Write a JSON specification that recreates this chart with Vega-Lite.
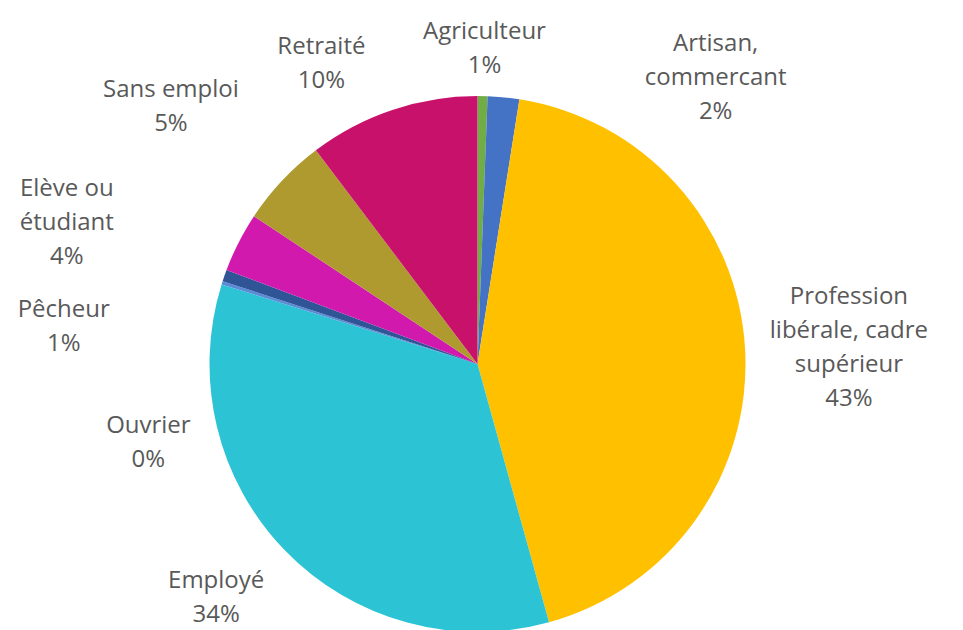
{
  "$schema": "https://vega.github.io/schema/vega-lite/v6.json",
  "width": 955,
  "height": 728,
  "autosize": "none",
  "padding": 0,
  "background": "white",
  "config": {"view": {"stroke": null}, "text": {"font": "Open Sans", "fontSize": 24, "fill": "#595959", "lineHeight": 34, "lineBreak": "\n", "baseline": "middle", "align": "center"}},
  "data": {"values": [
    {"categorie": "Agriculteur", "libelle": "Agriculteur", "part": 0.6},
    {"categorie": "Artisan, commercant", "libelle": "Artisan,\ncommercant", "part": 1.9},
    {"categorie": "Profession libérale, cadre supérieur", "libelle": "Profession\nlibérale, cadre\nsupérieur", "part": 43.2},
    {"categorie": "Employé", "libelle": "Employé", "part": 34.1},
    {"categorie": "Ouvrier", "libelle": "Ouvrier", "part": 0.2},
    {"categorie": "Pêcheur", "libelle": "Pêcheur", "part": 0.7},
    {"categorie": "Elève ou étudiant", "libelle": "Elève ou\nétudiant", "part": 3.6},
    {"categorie": "Sans emploi", "libelle": "Sans emploi", "part": 5.4},
    {"categorie": "Retraité", "libelle": "Retraité", "part": 10.3}
  ]},
  "transform": [
    {"window": [{"op": "sum", "field": "part", "as": "fin"}], "frame": [null, 0]},
    {"calculate": "datum.fin - datum.part", "as": "debut"},
    {"calculate": "datum.fin - datum.part / 2", "as": "milieu"},
    {"calculate": "datum.libelle + '\\n' + format(datum.part / 100, '.0%')", "as": "etiquette"}
  ],
  "layer": [
    {
      "mark": {"type": "arc", "outerRadius": 268},
      "encoding": {
        "theta": {"field": "debut", "type": "quantitative", "scale": {"domain": [0, 100]}},
        "theta2": {"field": "fin"},
        "color": {"field": "categorie", "type": "nominal", "legend": null,
          "scale": {"domain": ["Agriculteur", "Artisan, commercant", "Profession libérale, cadre supérieur", "Employé", "Ouvrier", "Pêcheur", "Elève ou étudiant", "Sans emploi", "Retraité"],
                    "range": ["#70AD47", "#4472C4", "#FFC000", "#2CC4D4", "#5B8BD6", "#2F5597", "#D11AAD", "#AE9A2F", "#C8116B"]}}
      }
    },
    {"transform": [{"filter": "datum.categorie === 'Agriculteur'"}],
     "mark": {"type": "text", "radius": 316, "dx": 1, "dy": -16},
     "encoding": {"theta": {"field": "milieu", "type": "quantitative", "scale": {"domain": [0, 100]}}, "text": {"field": "etiquette"}}},
    {"transform": [{"filter": "datum.categorie === 'Artisan, commercant'"}],
     "mark": {"type": "text", "radius": 372, "dx": 202, "dy": 50},
     "encoding": {"theta": {"field": "milieu", "type": "quantitative", "scale": {"domain": [0, 100]}}, "text": {"field": "etiquette"}}},
    {"transform": [{"filter": "datum.categorie === 'Profession libérale, cadre supérieur'"}],
     "mark": {"type": "text", "radius": 372, "dx": 0, "dy": -46},
     "encoding": {"theta": {"field": "milieu", "type": "quantitative", "scale": {"domain": [0, 100]}}, "text": {"field": "etiquette"}}},
    {"transform": [{"filter": "datum.categorie === 'Employé'"}],
     "mark": {"type": "text", "radius": 350, "dx": -10, "dy": -27},
     "encoding": {"theta": {"field": "milieu", "type": "quantitative", "scale": {"domain": [0, 100]}}, "text": {"field": "etiquette"}}},
    {"transform": [{"filter": "datum.categorie === 'Ouvrier'"}],
     "mark": {"type": "text", "radius": 338, "dx": -7, "dy": 164},
     "encoding": {"theta": {"field": "milieu", "type": "quantitative", "scale": {"domain": [0, 100]}}, "text": {"field": "etiquette"}}},
    {"transform": [{"filter": "datum.categorie === 'Pêcheur'"}],
     "mark": {"type": "text", "radius": 415, "dx": -22, "dy": 83},
     "encoding": {"theta": {"field": "milieu", "type": "quantitative", "scale": {"domain": [0, 100]}}, "text": {"field": "etiquette"}}},
    {"transform": [{"filter": "datum.categorie === 'Elève ou étudiant'"}],
     "mark": {"type": "text", "radius": 434, "dx": -24, "dy": 22},
     "encoding": {"theta": {"field": "milieu", "type": "quantitative", "scale": {"domain": [0, 100]}}, "text": {"field": "etiquette"}}},
    {"transform": [{"filter": "datum.categorie === 'Sans emploi'"}],
     "mark": {"type": "text", "radius": 400, "dx": -15, "dy": 0},
     "encoding": {"theta": {"field": "milieu", "type": "quantitative", "scale": {"domain": [0, 100]}}, "text": {"field": "etiquette"}}},
    {"transform": [{"filter": "datum.categorie === 'Retraité'"}],
     "mark": {"type": "text", "radius": 340, "dx": -48, "dy": 5},
     "encoding": {"theta": {"field": "milieu", "type": "quantitative", "scale": {"domain": [0, 100]}}, "text": {"field": "etiquette"}}}
  ]
}
